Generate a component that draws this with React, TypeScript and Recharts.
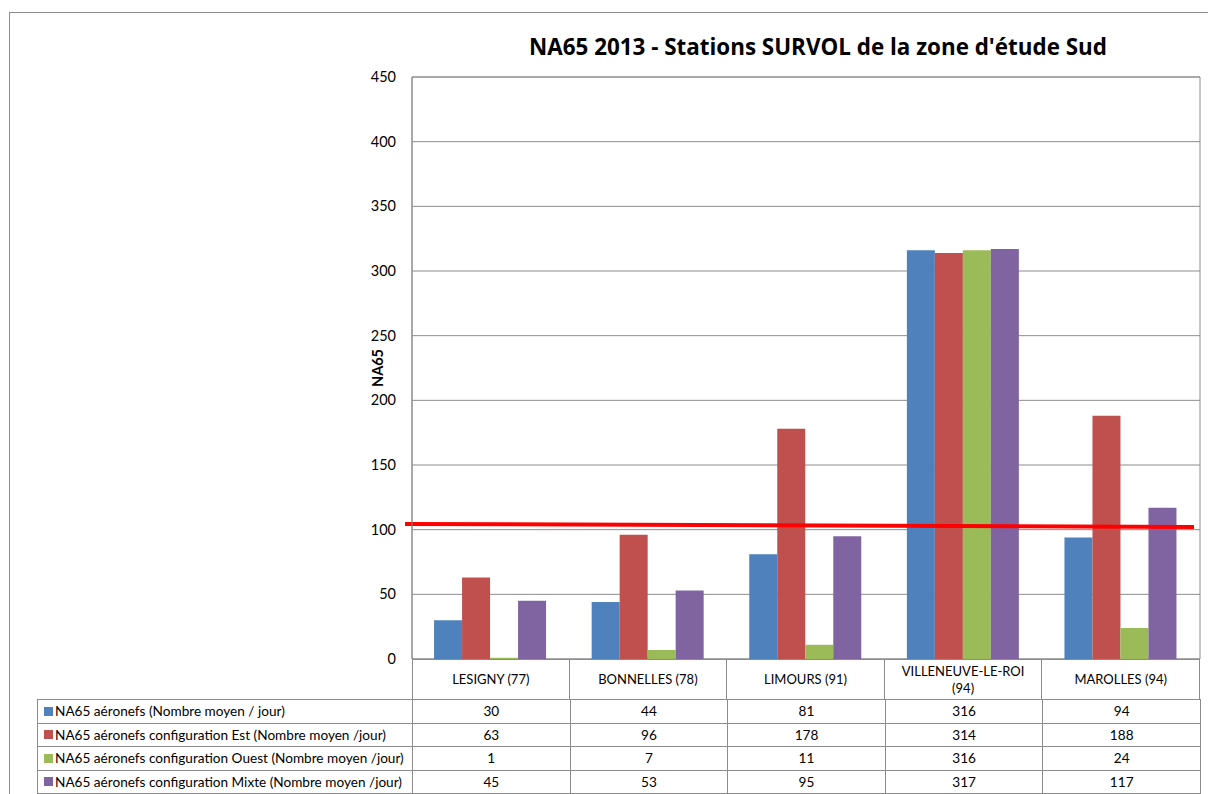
import React from 'react';
import { BarChart, Bar, XAxis, YAxis, CartesianGrid, ReferenceLine, ReferenceArea } from 'recharts';

const categories = ['LESIGNY (77)', 'BONNELLES (78)', 'LIMOURS (91)', 'VILLENEUVE-LE-ROI (94)', 'MAROLLES (94)'];
const totalValues = [30, 44, 81, 316, 94];
const estValues = [63, 96, 178, 314, 188];
const ouestValues = [1, 7, 11, 316, 24];
const mixteValues = [45, 53, 95, 317, 117];
const seriesNames = [
  'NA65 aéronefs (Nombre moyen / jour)',
  'NA65 aéronefs configuration Est (Nombre moyen /jour)',
  'NA65 aéronefs configuration Ouest (Nombre moyen /jour)',
  'NA65 aéronefs configuration Mixte (Nombre moyen /jour)',
];
const seriesColors = ['#4F81BD', '#C0504D', '#9BBB59', '#8064A2'];
const yTicks = [0, 50, 100, 150, 200, 250, 300, 350, 400, 450];
const thresholdStart = 104.4;
const thresholdEnd = 102.1;
const title = "NA65 2013 - Stations SURVOL de la zone d'étude Sud";
const yLabel = 'NA65';

const seriesValues = [totalValues, estValues, ouestValues, mixteValues];
const seriesKeys = ['total', 'est', 'ouest', 'mixte'];
const data = categories.map((c, i) => ({
  name: c,
  total: totalValues[i],
  est: estValues[i],
  ouest: ouestValues[i],
  mixte: mixteValues[i],
}));

const FONT = 'Lato, "Open Sans", sans-serif';
const GRID = '#8c8c8c';

const PLOT_LEFT = 412;
const PLOT_RIGHT = 1200;
const PLOT_TOP = 77;
const PLOT_BOTTOM = 659;
const W = 1208;
const H = 794;

const ThresholdShape = (props: any) => {
  const { x1, x2, y1 } = props;
  const perUnit = (PLOT_BOTTOM - PLOT_TOP) / 450;
  const base = 103;
  const ys = y1 - (thresholdStart - base) * perUnit;
  const ye = y1 - (thresholdEnd - base) * perUnit;
  return <line x1={x1 - 7} y1={ys} x2={x2 - 6} y2={ye} stroke="#FF0000" strokeWidth={4} />;
};

export default function App() {
  const colW = (PLOT_RIGHT - PLOT_LEFT) / categories.length;
  const headerH = 40;
  const rowH = 23.5;
  const tableLeft = 37;
  return (
    <div style={{ position: 'absolute', left: 0, top: 0, width: W, height: H, background: '#fff', fontFamily: FONT, overflow: 'hidden' }}>
      <div style={{ position: 'absolute', left: 9, top: 12, width: W, height: H, borderLeft: `1px solid ${GRID}`, borderTop: `1px solid ${GRID}` }} />
      <div style={{ position: 'absolute', left: 424, top: 32, width: 788, textAlign: 'center', fontSize: 22.4, fontWeight: 700, color: '#000', lineHeight: '30px', fontFamily: '"Open Sans", Lato, sans-serif', whiteSpace: 'nowrap' }}>
        {title}
      </div>
      <div style={{ position: 'absolute', left: 378 - 30, top: 368 - 10, width: 60, height: 20, textAlign: 'center', fontSize: 14.5, fontWeight: 700, lineHeight: '20px', transform: 'rotate(-90deg)' }}>
        {yLabel}
      </div>
      <div style={{ position: 'absolute', left: 0, top: 0 }}>
        <BarChart
          width={W}
          height={H}
          data={data}
          margin={{ top: PLOT_TOP, right: W - PLOT_RIGHT, left: 0, bottom: 0 }}
          barCategoryGap="14%"
          barGap={0}
        >
          <CartesianGrid vertical={false} stroke={GRID} strokeWidth={1} />
          <ReferenceArea y1={0} y2={450} stroke={GRID} strokeWidth={1} fill="none" fillOpacity={0} />
          <XAxis dataKey="name" height={H - PLOT_BOTTOM} tick={false} axisLine={false} tickLine={false} />
          <YAxis
            width={PLOT_LEFT}
            domain={[0, 450]}
            ticks={yTicks}
            interval={0}
            tickLine={false}
            tickSize={0}
            tickMargin={16}
            axisLine={{ stroke: GRID }}
            tick={{ fontSize: 14.5, fill: '#000', fontFamily: FONT }}
          />
          {seriesKeys.map((k, i) => (
            <Bar key={k} dataKey={k} name={seriesNames[i]} fill={seriesColors[i]} isAnimationActive={false} />
          ))}
          <ReferenceLine y={103} ifOverflow="visible" shape={ThresholdShape} />
        </BarChart>
      </div>
      {categories.map((c, ci) => (
        <div
          key={c}
          style={{
            position: 'absolute',
            left: PLOT_LEFT + ci * colW,
            top: PLOT_BOTTOM,
            width: colW,
            height: headerH,
            boxSizing: 'border-box',
            borderLeft: ci === 0 ? `1px solid ${GRID}` : 'none',
            borderRight: `1px solid ${GRID}`,
            borderTop: `1px solid ${GRID}`,
            display: 'flex',
            alignItems: 'center',
            justifyContent: 'center',
            textAlign: 'center',
            fontSize: 13,
            lineHeight: '17px',
            padding: '0 14px',
            color: '#000',
          }}
        >
          {c}
        </div>
      ))}
      {seriesNames.map((s, ri) => (
        <React.Fragment key={s}>
          <div
            style={{
              position: 'absolute',
              left: tableLeft,
              top: PLOT_BOTTOM + headerH + ri * rowH,
              width: PLOT_LEFT - tableLeft + 1,
              height: rowH + 1,
              boxSizing: 'border-box',
              border: `1px solid ${GRID}`,
              display: 'flex',
              alignItems: 'center',
              fontSize: 13.6,
              color: '#000',
              paddingLeft: 6,
              whiteSpace: 'nowrap',
            }}
          >
            <span style={{ display: 'inline-block', width: 9, height: 9, background: seriesColors[ri], marginRight: 2 }} />
            {s}
          </div>
          {seriesValues[ri].map((v, ci) => (
            <div
              key={ci}
              style={{
                position: 'absolute',
                left: PLOT_LEFT + ci * colW,
                top: PLOT_BOTTOM + headerH + ri * rowH,
                width: colW + 1,
                height: rowH + 1,
                boxSizing: 'border-box',
                border: `1px solid ${GRID}`,
                display: 'flex',
                alignItems: 'center',
                justifyContent: 'center',
                fontSize: 13.6,
                color: '#000',
              }}
            >
              {v}
            </div>
          ))}
        </React.Fragment>
      ))}
    </div>
  );
}
